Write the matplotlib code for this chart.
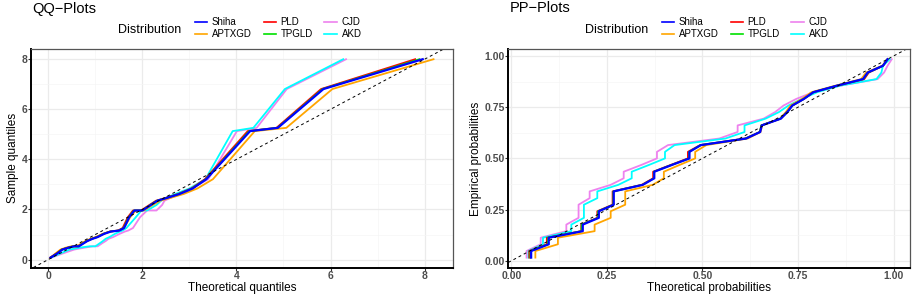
import matplotlib.pyplot as plt
from matplotlib.ticker import MultipleLocator

plt.rcParams['font.family'] = ['Liberation Sans', 'DejaVu Sans']

# legend order (column-major, 3 columns) and colours
legend_order = ['Shiha', 'APTXGD', 'PLD', 'TPGLD', 'CJD', 'AKD']
draw_order = ['CJD', 'AKD', 'APTXGD', 'PLD', 'TPGLD', 'Shiha']
colors = {'Shiha': 'blue', 'PLD': 'red', 'CJD': 'violet',
          'APTXGD': 'orange', 'TPGLD': '#00E000', 'AKD': 'cyan'}

# ---- QQ data: sorted sample and theoretical quantiles per distribution
qq_sample = [0.08, 0.24, 0.40, 0.48, 0.53, 0.53, 0.66, 0.74, 0.83, 0.90, 1.03, 1.12, 1.16, 1.26,
             1.69, 1.96, 1.96, 2.18, 2.35, 2.45, 2.62, 2.84, 3.21, 5.13, 5.26, 6.81, 8.00]
qq_shiha = [0.05, 0.19, 0.30, 0.44, 0.55, 0.65, 0.76, 0.83, 0.94, 1.05, 1.19, 1.33, 1.51, 1.61,
            1.72, 1.83, 2.00, 2.18, 2.32, 2.50, 2.79, 3.07, 3.36, 4.29, 4.88, 5.85, 7.96]
qq_pld = [0.04, 0.17, 0.28, 0.42, 0.53, 0.63, 0.74, 0.81, 0.92, 1.03, 1.17, 1.31, 1.48, 1.58,
          1.69, 1.80, 1.97, 2.15, 2.29, 2.47, 2.76, 3.04, 3.33, 4.24, 4.85, 5.80, 7.80]
qq_tpgld = [0.05, 0.18, 0.29, 0.43, 0.54, 0.64, 0.75, 0.82, 0.93, 1.04, 1.18, 1.32, 1.50, 1.60,
            1.71, 1.82, 1.99, 2.17, 2.31, 2.49, 2.78, 3.06, 3.35, 4.27, 4.87, 5.83, 7.89]
qq_aptxgd = [0.05, 0.15, 0.26, 0.38, 0.49, 0.60, 0.72, 0.79, 0.90, 1.01, 1.16, 1.31, 1.50, 1.61,
             1.74, 1.86, 2.03, 2.22, 2.38, 2.57, 2.88, 3.17, 3.50, 4.39, 5.06, 6.04, 8.19]
qq_akd = [0.06, 0.25, 0.45, 0.68, 0.88, 1.00, 1.10, 1.16, 1.22, 1.30, 1.42, 1.52, 1.58, 1.66,
          1.86, 1.98, 2.10, 2.30, 2.40, 2.48, 2.70, 3.00, 3.34, 3.92, 4.36, 5.03, 6.27]
qq_cjd = [0.07, 0.30, 0.55, 0.78, 0.95, 1.05, 1.15, 1.22, 1.28, 1.38, 1.52, 1.63, 1.70, 1.80,
          1.95, 2.10, 2.30, 2.42, 2.47, 2.58, 2.80, 3.05, 3.40, 4.01, 4.43, 5.07, 6.33]

# ---- PP data: empirical probabilities and fitted CDF values per distribution
pp_emp = [0.016, 0.048, 0.081, 0.113, 0.145, 0.177, 0.210, 0.242, 0.274, 0.306, 0.339, 0.371,
          0.403, 0.435, 0.468, 0.500, 0.532, 0.565, 0.597, 0.629, 0.661, 0.694, 0.726, 0.758,
          0.790, 0.823, 0.855, 0.887, 0.919, 0.952, 0.984]
pp_shiha = [0.052, 0.052, 0.098, 0.098, 0.187, 0.187, 0.229, 0.229, 0.268, 0.268, 0.268, 0.344,
            0.374, 0.374, 0.420, 0.466, 0.466, 0.496, 0.614, 0.651, 0.655, 0.705, 0.722, 0.735,
            0.765, 0.790, 0.852, 0.920, 0.932, 0.972, 0.984]
pp_pld = [0.047, 0.047, 0.093, 0.093, 0.183, 0.183, 0.225, 0.225, 0.265, 0.265, 0.265, 0.341,
          0.371, 0.371, 0.417, 0.462, 0.462, 0.494, 0.612, 0.650, 0.654, 0.704, 0.721, 0.735,
          0.765, 0.790, 0.853, 0.923, 0.935, 0.972, 0.984]
pp_tpgld = [0.050, 0.050, 0.096, 0.096, 0.184, 0.184, 0.227, 0.227, 0.267, 0.267, 0.267, 0.343,
            0.373, 0.373, 0.419, 0.465, 0.465, 0.495, 0.613, 0.650, 0.654, 0.704, 0.722, 0.735,
            0.765, 0.790, 0.852, 0.921, 0.933, 0.972, 0.984]
pp_aptxgd = [0.063, 0.063, 0.122, 0.122, 0.218, 0.218, 0.260, 0.260, 0.298, 0.298, 0.298, 0.370,
             0.399, 0.399, 0.440, 0.481, 0.481, 0.510, 0.618, 0.652, 0.656, 0.703, 0.718, 0.730,
             0.760, 0.785, 0.848, 0.915, 0.928, 0.970, 0.984]
pp_akd = [0.045, 0.045, 0.083, 0.083, 0.157, 0.157, 0.190, 0.190, 0.190, 0.225, 0.225, 0.280,
          0.315, 0.315, 0.360, 0.402, 0.402, 0.427, 0.560, 0.610, 0.610, 0.665, 0.700, 0.725,
          0.760, 0.800, 0.860, 0.955, 0.968, 0.972, 0.990]
pp_cjd = [0.040, 0.040, 0.077, 0.077, 0.144, 0.144, 0.176, 0.176, 0.176, 0.205, 0.205, 0.260,
          0.294, 0.294, 0.340, 0.381, 0.381, 0.410, 0.544, 0.592, 0.592, 0.660, 0.690, 0.712,
          0.745, 0.790, 0.860, 0.958, 0.975, 0.984, 0.995]

qq_x = {'Shiha': qq_shiha, 'PLD': qq_pld, 'TPGLD': qq_tpgld,
        'APTXGD': qq_aptxgd, 'AKD': qq_akd, 'CJD': qq_cjd}
pp_x = {'Shiha': pp_shiha, 'PLD': pp_pld, 'TPGLD': pp_tpgld,
        'APTXGD': pp_aptxgd, 'AKD': pp_akd, 'CJD': pp_cjd}

AX_BOTTOM = 267.5   # px from top
AX_TOP = 49.3
AX_H = AX_BOTTOM - AX_TOP


def expand(vals, f=0.05):
    lo, hi = min(vals), max(vals)
    d = (hi - lo) * f
    return lo - d, hi + d


def style(ax, minor):
    ax.xaxis.set_minor_locator(MultipleLocator(minor))
    ax.yaxis.set_minor_locator(MultipleLocator(minor))
    ax.grid(which='major', color='#EBEBEB', lw=0.9)
    ax.grid(which='minor', color='#F5F5F5', lw=0.5)
    ax.set_axisbelow(True)
    for s in ['left', 'bottom']:
        ax.spines[s].set_color('black')
        ax.spines[s].set_linewidth(1.4)
    for s in ['top', 'right']:
        ax.spines[s].set_color('#555555')
        ax.spines[s].set_linewidth(0.9)
    ax.tick_params(which='major', length=2, width=0.8, color='#333333',
                   labelsize=7.5, labelcolor='#4D4D4D', pad=0.5)
    ax.tick_params(which='minor', length=0)
    for lbl in ax.get_xticklabels() + ax.get_yticklabels():
        lbl.set_fontweight('bold')


def panel(ax, xdata, ydata, title, xlabel, ylabel, ticks, fmt, minor, legend_x, dist_x, title_x):
    lines = {}
    for d in draw_order:
        lw = 1.6 if d == 'Shiha' else 1.3
        lines[d], = ax.plot(xdata[d], ydata, color=colors[d], lw=lw, label=d)
    ax.axline((0, 0), slope=1, color='black', lw=0.7, ls=(0, (3, 3)))
    allx = [v for d in xdata for v in xdata[d]]
    ax.set_xlim(*expand(allx))
    ax.set_ylim(*expand(ydata))
    ax.set_xticks(ticks)
    ax.set_yticks(ticks)
    ax.set_xticklabels([fmt.format(t) for t in ticks])
    ax.set_yticklabels([fmt.format(t) for t in ticks])
    style(ax, minor)
    ax.set_xlabel(xlabel, fontsize=8.5, va='baseline')
    ax.xaxis.set_label_coords(0.5, -(291.3 - AX_BOTTOM) / AX_H)
    ax.set_ylabel(ylabel, fontsize=8.5, labelpad=2,
                  family=['Liberation Sans Narrow', 'Liberation Sans', 'DejaVu Sans'])
    fig.text(title_x / 915, 1 - 12.5 / 294, title, fontsize=10.5, va='baseline', ha='left')
    fig.text(dist_x / 915, 1 - 30 / 294, 'Distribution', fontsize=9, va='center', ha='left')
    leg = fig.legend([lines[d] for d in legend_order], legend_order, ncol=3,
                     loc='upper left', bbox_to_anchor=(legend_x / 915, 1 - 17 / 294),
                     frameon=False, fontsize=7, handlelength=1.25, handletextpad=0.5,
                     columnspacing=1.2, labelspacing=0.25, borderpad=0, borderaxespad=0)
    for ln in leg.get_lines():
        ln.set_linewidth(1.2)


fig = plt.figure(figsize=(9.15, 2.94), dpi=100)
ax1 = fig.add_axes([31 / 915, (294 - AX_BOTTOM) / 294, 421.7 / 915, AX_H / 294])
ax2 = fig.add_axes([508.3 / 915, (294 - AX_BOTTOM) / 294, 401.7 / 915, AX_H / 294])

panel(ax1, qq_x, qq_sample, 'QQ\u2212Plots', 'Theoretical quantiles', 'Sample quantiles',
      [0, 2, 4, 6, 8], '{:g}', 1, 195, 118, 32)
panel(ax2, pp_x, pp_emp, 'PP\u2212Plots', 'Theoretical probabilities', 'Empirical probabilities',
      [0, 0.25, 0.5, 0.75, 1.0], '{:.2f}', 0.125, 662, 585, 510)

fig.savefig('out.png', dpi=100)
